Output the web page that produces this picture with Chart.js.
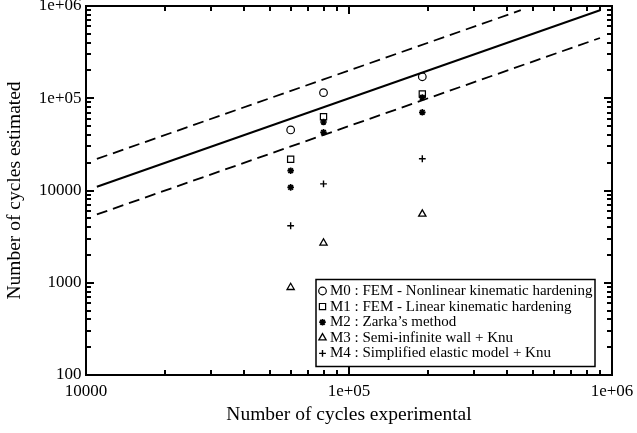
<!DOCTYPE html>
<html>
<head>
<meta charset="utf-8">
<script src="https://cdn.jsdelivr.net/npm/chart.js@4/dist/chart.umd.min.js"></script>
<style>
  body { margin: 0; background: #fff; }
  canvas { display: block; }
</style>
</head>
<body>
<canvas id="chart" width="637" height="433"></canvas>
<script>
const expCycles = [60000, 80000, 190000];
const m0 = [45300, 115000, 171000];
const m1 = [21800, 63000, 111000];
const m2a = [16400, 55300, 102000];
const m2b = [10800, 42700, 70400];
const m3 = [890, 2700, 5560];
const m4 = [4150, 11800, 22100];

const refX = [11000, 900000];
const refY = [11000, 900000];
const upperX = [11000, 450000];
const upperY = [22000, 900000];
const lowerX = [11000, 900000];
const lowerY = [5500, 450000];

const legendLabels = [
  'M0 : FEM - Nonlinear kinematic hardening',
  'M1 : FEM - Linear kinematic hardening',
  'M2 : Zarka\u2019s method',
  'M3 : Semi-infinite wall + Knu',
  'M4 : Simplified elastic model + Knu'
];
const legendStyles = ['circle', 'rect', 'star', 'triangle', 'cross'];

const xTickValues = [1e4, 1e5, 1e6];
const xTickLabels = ['10000', '1e+05', '1e+06'];
const yTickValues = [100, 1000, 1e4, 1e5, 1e6];
const yTickLabels = ['100', '1000', '10000', '1e+05', '1e+06'];

const FONT = '"Liberation Serif", "Times New Roman", serif';

function pts(xs, ys) {
  return xs.map((x, i) => ({ x: x, y: ys[i] }));
}

function logTicks(min, max) {
  const out = [];
  for (let e = Math.round(Math.log10(min)); e < Math.round(Math.log10(max)); e++) {
    for (let m = 1; m < 10; m++) out.push({ value: m * Math.pow(10, e) });
  }
  out.push({ value: max });
  return out;
}

function isMajor(v) {
  const l = Math.log10(v);
  return Math.abs(l - Math.round(l)) < 1e-9;
}

function labelFor(values, labels, v) {
  const i = values.findIndex((t) => Math.abs(t - v) / t < 1e-9);
  return i >= 0 ? labels[i] : '';
}

const markerRadius = { circle: 3.8, rect: 4.4, star: 3.3, triangle: 4.2, cross: 3.4 };
const markerWidth = { circle: 1.2, rect: 1.2, star: 1.7, triangle: 1.3, cross: 1.4 };

function markerSet(data, style) {
  return {
    data,
    pointStyle: style,
    pointRadius: markerRadius[style],
    pointHoverRadius: markerRadius[style],
    pointBorderWidth: markerWidth[style],
    borderColor: '#000',
    backgroundColor: 'rgba(0,0,0,0)',
    showLine: false,
    order: 1,
  };
}

function lineSet(data, dash) {
  return {
    data,
    showLine: true,
    pointRadius: 0,
    borderColor: '#000',
    borderWidth: dash ? 1.8 : 2,
    borderDash: dash || [],
    order: 2,
  };
}

const framePlugin = {
  id: 'frame',
  afterDraw(chart) {
    const ctx = chart.ctx;
    const a = chart.chartArea;
    const sx = chart.scales.x, sy = chart.scales.y;
    ctx.save();
    ctx.fillStyle = '#000';
    logTicks(1e4, 1e6).forEach((t) => {
      const px = Math.round(sx.getPixelForValue(t.value));
      const len = isMajor(t.value) ? 8 : 5;
      ctx.fillRect(px - 1, a.bottom - len, 2, len);
      ctx.fillRect(px - 1, a.top, 2, len);
    });
    logTicks(100, 1e6).forEach((t) => {
      const py = Math.round(sy.getPixelForValue(t.value));
      const len = isMajor(t.value) ? 8 : 5;
      ctx.fillRect(a.left, py - 1, len, 2);
      ctx.fillRect(a.right - len, py - 1, len, 2);
    });
    ctx.strokeStyle = '#000';
    ctx.lineWidth = 2;
    ctx.strokeRect(a.left, a.top, a.right - a.left, a.bottom - a.top);

    const bx = 316, by = 279.5, bw = 279, bh = 87;
    ctx.fillStyle = '#fff';
    ctx.fillRect(bx, by, bw, bh);
    ctx.lineWidth = 1.5;
    ctx.strokeRect(bx, by, bw, bh);
    ctx.font = '15px ' + FONT;
    ctx.textBaseline = 'alphabetic';
    ctx.textAlign = 'left';
    legendLabels.forEach((lab, i) => {
      const base = 295 + i * 15.6;
      const style = legendStyles[i];
      ctx.fillStyle = 'rgba(0,0,0,0)';
      ctx.strokeStyle = '#000';
      ctx.lineWidth = markerWidth[style];
      Chart.helpers.drawPoint(ctx, { pointStyle: style, radius: markerRadius[style], borderWidth: markerWidth[style], rotation: 0 }, 322.5, base - 4);
      ctx.fillStyle = '#000';
      ctx.fillText(lab, 330, base);
    });
    ctx.restore();
  }
};

new Chart(document.getElementById('chart'), {
  type: 'scatter',
  data: {
    datasets: [
      markerSet(pts(expCycles, m0), 'circle'),
      markerSet(pts(expCycles, m1), 'rect'),
      markerSet(pts(expCycles, m2a), 'star'),
      markerSet(pts(expCycles, m2b), 'star'),
      markerSet(pts(expCycles, m3), 'triangle'),
      markerSet(pts(expCycles, m4), 'cross'),
      lineSet(pts(refX, refY)),
      lineSet(pts(upperX, upperY), [11, 6]),
      lineSet(pts(lowerX, lowerY), [11, 6]),
    ]
  },
  options: {
    responsive: false,
    animation: false,
    layout: { padding: { top: 6, right: 25, left: 0, bottom: 0 } },
    plugins: {
      legend: { display: false },
      tooltip: { enabled: false },
    },
    scales: {
      x: {
        type: 'logarithmic',
        min: 1e4,
        max: 1e6,
        afterBuildTicks: (s) => { s.ticks = logTicks(1e4, 1e6); },
        afterFit: (s) => { s.height = 58; s.paddingLeft = 0; s.paddingRight = 0; },
        grid: { display: false, drawTicks: false },
        border: { display: false },
        ticks: {
          autoSkip: false,
          maxRotation: 0,
          minRotation: 0,
          padding: 6,
          color: '#000',
          font: { family: FONT, size: 17 },
          callback: (v) => labelFor(xTickValues, xTickLabels, v),
        },
        title: {
          display: true,
          text: 'Number of cycles experimental',
          color: '#000',
          font: { family: FONT, size: 19.5 },
          padding: { top: 0, bottom: 6 },
        },
      },
      y: {
        type: 'logarithmic',
        min: 100,
        max: 1e6,
        afterBuildTicks: (s) => { s.ticks = logTicks(100, 1e6); },
        afterFit: (s) => { s.width = 86; s.paddingTop = 0; s.paddingBottom = 0; },
        grid: { display: false, drawTicks: false },
        border: { display: false },
        ticks: {
          autoSkip: false,
          padding: 4.5,
          color: '#000',
          font: { family: FONT, size: 17 },
          callback: (v) => labelFor(yTickValues, yTickLabels, v),
        },
        title: {
          display: true,
          text: 'Number of cycles estimated',
          color: '#000',
          font: { family: FONT, size: 19.5 },
          padding: { top: 3, bottom: 0 },
        },
      },
    },
  },
  plugins: [framePlugin],
});
</script>
</body>
</html>
